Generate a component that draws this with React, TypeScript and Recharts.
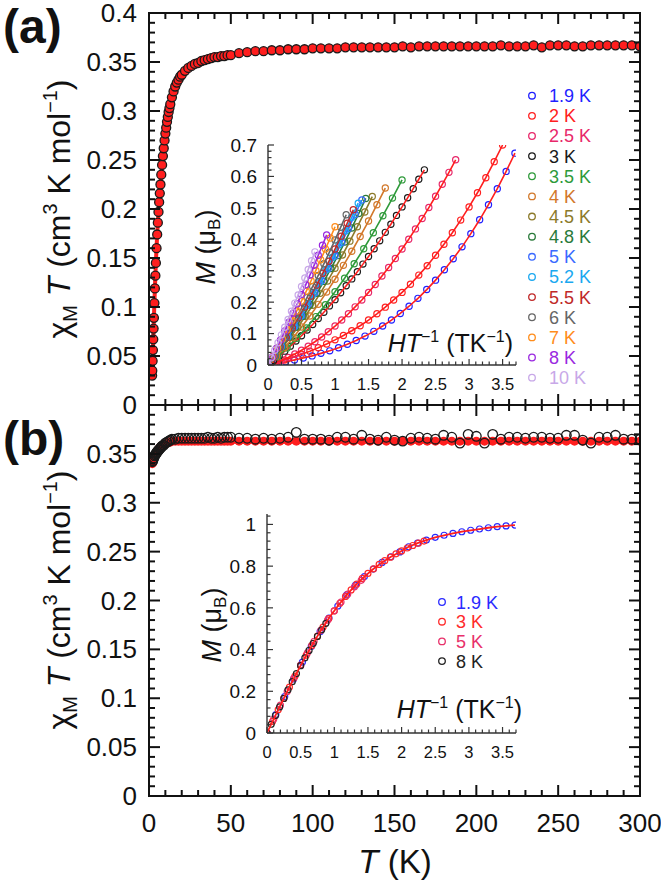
import React from 'react';
import { ScatterChart, Scatter, XAxis, YAxis } from 'recharts';

const FONT = '"Liberation Sans", Arial, Helvetica, sans-serif';
const INK = '#111';
const FIT = '#ff1e1e';

// chi*T against T, upper panel
const tempA = [
  1.9, 2, 2.2, 2.4, 2.6, 2.8, 3, 3.3, 3.6, 3.9, 4.2, 4.6, 5, 5.4, 5.8, 6.2, 6.6, 7,
  7.5, 8, 8.5, 9, 9.5, 10, 10.5, 11, 11.5, 12, 12.5, 13, 14, 15, 16, 17, 18, 19, 20,
  22, 24, 26, 28, 30, 32, 34, 36, 38, 40, 42, 44, 46, 48, 50,
  55, 60, 65, 70, 75, 80, 85, 90, 95, 100, 105, 110, 115, 120, 125, 130, 135, 140, 145, 150,
  155, 160, 165, 170, 175, 180, 185, 190, 195, 200, 205, 210, 215, 220, 225, 230, 235, 240, 245, 250,
  255, 260, 265, 270, 275, 280, 285, 290, 295, 300,
];
const chiTA = [
  0.030, 0.035, 0.045, 0.056, 0.067, 0.078, 0.089, 0.104, 0.119, 0.132, 0.145, 0.160, 0.174,
  0.186, 0.197, 0.207, 0.216, 0.225, 0.235, 0.245, 0.254, 0.262, 0.270, 0.277,
  0.283, 0.289, 0.294, 0.299, 0.303, 0.307, 0.314, 0.320, 0.325, 0.329, 0.332, 0.335, 0.337,
  0.341, 0.344, 0.346, 0.348, 0.349, 0.351, 0.352, 0.353, 0.354, 0.355, 0.355, 0.356, 0.356, 0.357, 0.357,
  0.359, 0.360, 0.361, 0.361, 0.362, 0.362, 0.363, 0.363, 0.363, 0.364,
  0.364, 0.364, 0.364, 0.365, 0.365, 0.365, 0.365, 0.365, 0.365, 0.365,
  0.366, 0.365, 0.366, 0.366, 0.366, 0.366, 0.366, 0.366, 0.366, 0.366,
  0.366, 0.366, 0.367, 0.366, 0.366, 0.366, 0.367, 0.365, 0.367, 0.367,
  0.367, 0.366, 0.366, 0.367, 0.367, 0.367, 0.367, 0.367, 0.367, 0.366,
];

// chi*T against T, lower panel: measured and calculated
const tempB = [
  2, 2.3, 2.6, 3, 3.4, 3.8, 4.2, 4.6, 5, 5.5, 6, 6.5, 7, 7.5, 8, 9, 10, 11, 12, 13, 14,
  16, 18, 20, 22, 24, 26, 28, 30, 32, 34, 36, 38, 40, 42, 44, 46, 48, 50,
  55, 60, 65, 70, 75, 80, 85, 90, 95, 100, 105, 110, 115, 120, 125, 130, 135, 140, 145, 150,
  155, 160, 165, 170, 175, 180, 185, 190, 195, 200, 205, 210, 215, 220, 225, 230, 235, 240, 245, 250,
  255, 260, 265, 270, 275, 280, 285, 290, 295, 300,
];
const chiTBexp = [
  0.342, 0.343, 0.345, 0.346, 0.348, 0.349, 0.350, 0.351, 0.352, 0.353, 0.354, 0.355, 0.356, 0.357, 0.358,
  0.359, 0.361, 0.362, 0.363, 0.364, 0.365,
  0.365, 0.366, 0.366, 0.366, 0.366, 0.366, 0.366, 0.366, 0.366, 0.366, 0.367, 0.366, 0.366, 0.367, 0.366, 0.367, 0.367, 0.367,
  0.366, 0.366, 0.365, 0.366, 0.365, 0.366, 0.367, 0.372, 0.365, 0.365,
  0.365, 0.364, 0.367, 0.367, 0.365, 0.369, 0.365, 0.364, 0.367, 0.364,
  0.363, 0.366, 0.367, 0.366, 0.365, 0.369, 0.367, 0.361, 0.370, 0.368,
  0.361, 0.370, 0.365, 0.367, 0.367, 0.366, 0.367, 0.367, 0.366, 0.366,
  0.369, 0.369, 0.364, 0.361, 0.367, 0.367, 0.369, 0.365, 0.365, 0.365,
];
const chiTBcalc = [
  0.340, 0.342, 0.344, 0.346, 0.348, 0.349, 0.351, 0.352, 0.353, 0.354, 0.355, 0.356, 0.357, 0.358, 0.358,
  0.359, 0.360, 0.361, 0.362, 0.362, 0.363,
  0.363, 0.363, 0.363, 0.363, 0.363, 0.363, 0.363, 0.363, 0.363, 0.363, 0.363, 0.363, 0.363, 0.363, 0.363, 0.363, 0.363, 0.363,
  0.363, 0.363, 0.363, 0.363, 0.363, 0.363, 0.363, 0.363, 0.363, 0.363,
  0.363, 0.363, 0.363, 0.363, 0.363, 0.363, 0.363, 0.363, 0.363, 0.363,
  0.363, 0.363, 0.363, 0.363, 0.363, 0.363, 0.363, 0.363, 0.363, 0.363,
  0.363, 0.363, 0.363, 0.363, 0.363, 0.363, 0.363, 0.363, 0.363, 0.363,
  0.363, 0.363, 0.363, 0.363, 0.363, 0.363, 0.363, 0.363, 0.363, 0.363,
];

// field sweeps (T) used for the magnetisation isotherms
const fieldFine = [0, 0.25, 0.5, 0.75, 1, 1.25, 1.5, 1.75, 2, 2.25, 2.5, 2.75, 3, 3.25, 3.5, 3.75, 4, 4.25, 4.5, 4.75, 5, 5.25, 5.5, 5.75, 6, 6.25, 6.5, 6.75, 7];
const fieldCoarse = [0, 0.5, 1, 1.5, 2, 2.5, 3, 3.5, 4, 4.5, 5, 5.5, 6, 6.5, 7];

// M (muB) isotherms, upper inset
const mA19 = [0, 0.005, 0.010, 0.016, 0.022, 0.029, 0.037, 0.045, 0.055, 0.066, 0.078, 0.092, 0.107, 0.124, 0.143, 0.164, 0.187, 0.212, 0.240, 0.270, 0.303, 0.338, 0.376, 0.418, 0.462, 0.510, 0.561, 0.616, 0.674];
const mA2 = [0, 0.008, 0.016, 0.025, 0.034, 0.044, 0.055, 0.067, 0.080, 0.094, 0.109, 0.125, 0.143, 0.163, 0.184, 0.207, 0.231, 0.257, 0.286, 0.316, 0.349, 0.384, 0.421, 0.461, 0.503, 0.548, 0.596, 0.647, 0.700];
const mA25 = [0, 0.007, 0.015, 0.024, 0.035, 0.047, 0.060, 0.074, 0.089, 0.106, 0.124, 0.143, 0.163, 0.185, 0.207, 0.231, 0.256, 0.283, 0.310, 0.339, 0.369, 0.400, 0.433, 0.466, 0.501, 0.537, 0.575, 0.613, 0.653];
const mA3 = [0, 0.014, 0.029, 0.044, 0.060, 0.076, 0.093, 0.111, 0.129, 0.148, 0.168, 0.188, 0.208, 0.230, 0.252, 0.274, 0.297, 0.321, 0.345, 0.370, 0.395, 0.422, 0.448, 0.476, 0.503, 0.532, 0.561, 0.591, 0.621];
const mA35 = [0, 0.026, 0.054, 0.085, 0.118, 0.154, 0.192, 0.233, 0.276, 0.322, 0.370, 0.421, 0.475, 0.531, 0.589];
const mA4 = [0, 0.027, 0.056, 0.087, 0.121, 0.156, 0.193, 0.232, 0.273, 0.317, 0.362, 0.409, 0.458, 0.510, 0.563];
const mA45 = [0, 0.028, 0.057, 0.088, 0.120, 0.155, 0.190, 0.228, 0.267, 0.308, 0.350, 0.394, 0.440, 0.487, 0.536];
const mA48 = [0, 0.028, 0.058, 0.089, 0.121, 0.155, 0.191, 0.228, 0.266, 0.307, 0.348, 0.391, 0.436, 0.482, 0.530];
const mA5 = [0, 0.029, 0.059, 0.090, 0.123, 0.157, 0.193, 0.230, 0.268, 0.307, 0.348, 0.390, 0.434, 0.479, 0.525];
const mA52 = [0, 0.028, 0.058, 0.089, 0.121, 0.154, 0.189, 0.225, 0.263, 0.302, 0.342, 0.383, 0.426, 0.470, 0.515];
const mA55 = [0, 0.028, 0.057, 0.087, 0.118, 0.150, 0.184, 0.219, 0.254, 0.292, 0.330, 0.369, 0.410, 0.451, 0.494];
const mA6 = [0, 0.028, 0.057, 0.086, 0.117, 0.149, 0.181, 0.215, 0.250, 0.285, 0.322, 0.359, 0.398, 0.438, 0.478];
const mA7 = [0, 0.027, 0.055, 0.083, 0.112, 0.142, 0.172, 0.204, 0.235, 0.268, 0.301, 0.335, 0.369, 0.404, 0.440];
const mA8 = [0, 0.026, 0.053, 0.080, 0.108, 0.136, 0.165, 0.195, 0.224, 0.255, 0.286, 0.317, 0.349, 0.381, 0.414];
const mA10 = [0, 0.023, 0.047, 0.071, 0.096, 0.120, 0.145, 0.171, 0.197, 0.223, 0.250, 0.277, 0.304, 0.332, 0.360];

// M (muB) isotherms, lower inset
const mB19 = [0, 0.088, 0.175, 0.259, 0.340, 0.415, 0.486, 0.551, 0.609, 0.662, 0.709, 0.750, 0.786, 0.818, 0.845, 0.868, 0.893, 0.910, 0.925, 0.938, 0.948, 0.957, 0.965, 0.972, 0.978, 0.984, 0.989, 0.993, 0.997];
const mB3 = [0, 0.056, 0.112, 0.166, 0.220, 0.273, 0.324, 0.373, 0.420, 0.465, 0.508, 0.548, 0.586, 0.622, 0.655, 0.686, 0.714, 0.741, 0.765, 0.787, 0.808, 0.826, 0.843, 0.859, 0.873, 0.887, 0.899, 0.910, 0.920];
const mB5 = [0, 0.067, 0.134, 0.199, 0.263, 0.325, 0.384, 0.440, 0.492, 0.541, 0.586, 0.628, 0.666, 0.701, 0.732];
const mB8 = [0, 0.042, 0.084, 0.125, 0.166, 0.207, 0.246, 0.285, 0.323, 0.360, 0.396, 0.430, 0.463, 0.495, 0.526];

// tick labels and tick grids
const tMajor = [0, 50, 100, 150, 200, 250, 300];
const chiMajor = [0, 0.05, 0.1, 0.15, 0.2, 0.25, 0.3, 0.35, 0.4];
const hMajor = [0, 0.5, 1, 1.5, 2, 2.5, 3, 3.5];
const mMajorA = [0, 0.1, 0.2, 0.3, 0.4, 0.5, 0.6, 0.7];
const mMajorB = [0, 0.2, 0.4, 0.6, 0.8, 1];

const tTicks = Array.from({ length: 31 }, (_, i) => i * 10);
const chiTicks = Array.from({ length: 41 }, (_, i) => i / 100);
const hTicks = Array.from({ length: 38 }, (_, i) => i / 10);
const mTicksA = Array.from({ length: 36 }, (_, i) => i / 50);
const mTicksB = Array.from({ length: 27 }, (_, i) => i / 25);

// plot boxes (page pixels), matching the chart margins below
const FRAME_L = 149;
const FRAME_W = 491;
const FRAME_A = { top: 13, h: 392 };
const FRAME_B = { top: 405, h: 391 };
const INSET_A = { left: 268, top: 145, w: 248, h: 220, yMax: 0.7 };
const INSET_B = { left: 267, top: 514, w: 249, h: 219, yMax: 1.05 };
const H_MAX = 3.7;

const near = (v: number, list: number[]) => list.some((m) => Math.abs(m - v) < 1e-6);
const fmt = (v: number) => String(parseFloat(v.toFixed(2)));

const xy = (xs: number[], ys: number[]) => ys.map((y, i) => ({ x: xs[i], y }));
const sweep = (field: number[], temp: number, m: number[]) => m.map((y, i) => ({ x: field[i] / temp, y }));

const sweepsA = [
  { label: '1.9 K', color: '#1f1fff', fit: FIT, pts: sweep(fieldFine, 1.9, mA19) },
  { label: '2 K', color: '#ff2020', fit: FIT, pts: sweep(fieldFine, 2, mA2) },
  { label: '2.5 K', color: '#e8286a', fit: FIT, pts: sweep(fieldFine, 2.5, mA25) },
  { label: '3 K', color: '#1a1a1a', fit: FIT, pts: sweep(fieldFine, 3, mA3) },
  { label: '3.5 K', color: '#2e9a3a', fit: '#2e9a3a', pts: sweep(fieldCoarse, 3.5, mA35) },
  { label: '4 K', color: '#d2782a', fit: '#d2782a', pts: sweep(fieldCoarse, 4, mA4) },
  { label: '4.5 K', color: '#8c7a2a', fit: '#8c7a2a', pts: sweep(fieldCoarse, 4.5, mA45) },
  { label: '4.8 K', color: '#2a7a3a', fit: '#2a7a3a', pts: sweep(fieldCoarse, 4.8, mA48) },
  { label: '5 K', color: '#3a6aff', fit: '#3a6aff', pts: sweep(fieldCoarse, 5, mA5) },
  { label: '5.2 K', color: '#1aa8f0', fit: '#1aa8f0', pts: sweep(fieldCoarse, 5.2, mA52) },
  { label: '5.5 K', color: '#c02828', fit: '#c02828', pts: sweep(fieldCoarse, 5.5, mA55) },
  { label: '6 K', color: '#666666', fit: '#666666', pts: sweep(fieldCoarse, 6, mA6) },
  { label: '7 K', color: '#ff8c1a', fit: '#ff8c1a', pts: sweep(fieldCoarse, 7, mA7) },
  { label: '8 K', color: '#9a28e0', fit: '#9a28e0', pts: sweep(fieldCoarse, 8, mA8) },
  { label: '10 K', color: '#c8a8e8', fit: '#c8a8e8', pts: sweep(fieldCoarse, 10, mA10) },
];

const sweepsB = [
  { label: '1.9 K', color: '#2a2aff', pts: sweep(fieldFine, 1.9, mB19) },
  { label: '3 K', color: '#ff2a2a', pts: sweep(fieldFine, 3, mB3) },
  { label: '5 K', color: '#e8306a', pts: sweep(fieldCoarse, 5, mB5) },
  { label: '8 K', color: '#222222', pts: sweep(fieldCoarse, 8, mB8) },
];

// axis labels only; tick marks are drawn in the overlay
const labelTick = (side: 'bottom' | 'left', majors: number[], size: number, gap: number, skip: number[] = []) => (p: any) => {
  const v = Number(p.payload.value);
  if (!near(v, majors) || near(v, skip)) return <g />;
  if (side === 'bottom') {
    return (
      <text x={p.x} y={p.y + gap} textAnchor="middle" fontSize={size} fontFamily={FONT} fill={INK}>{fmt(v)}</text>
    );
  }
  return (
    <text x={p.x - gap} y={p.y + size * 0.35} textAnchor="end" fontSize={size} fontFamily={FONT} fill={INK}>{fmt(v)}</text>
  );
};

const noDot = () => <g />;
const ring = (color: string, r: number, w: number, fill = 'none') => (p: any) =>
  <circle cx={p.cx} cy={p.cy} r={r} fill={fill} stroke={color} strokeWidth={w} />;
const disc = (color: string, r: number) => (p: any) => <circle cx={p.cx} cy={p.cy} r={r} fill={color} />;

// each axis is 1px thick (a zero-size axis is not drawn), margins make up the rest
const frameAxes = (xLabels: boolean, skipY: number[]) => [
  <XAxis key="xb" xAxisId="b" type="number" dataKey="x" domain={[0, 300]} ticks={tTicks} interval={0}
    height={1} tickSize={0} tickMargin={0} tickLine={false} axisLine={false} allowDataOverflow
    tick={xLabels ? labelTick('bottom', tMajor, 26, 36) : false} />,
  <YAxis key="yl" yAxisId="l" type="number" dataKey="y" domain={[0, 0.4]} ticks={chiTicks} interval={0}
    width={1} tickSize={0} tickMargin={0} tickLine={false} axisLine={false} allowDataOverflow
    tick={labelTick('left', chiMajor, 26, 12, skipY)} />,
];

const insetAxes = (yMax: number, yTicks: number[], yMajors: number[]) => [
  <XAxis key="x" xAxisId="b" type="number" dataKey="x" domain={[0, H_MAX]} ticks={hTicks} interval={0}
    height={1} tickSize={0} tickMargin={0} tickLine={false} axisLine={false} allowDataOverflow
    tick={labelTick('bottom', hMajor, 16.5, 25)} />,
  <YAxis key="y" yAxisId="l" type="number" dataKey="y" domain={[0, yMax]} ticks={yTicks} interval={0}
    width={1} tickSize={0} tickMargin={0} tickLine={false} axisLine={false} allowDataOverflow
    tick={labelTick('left', yMajors, 19, 11)} />,
];

// inward ticks on all four sides of a chi*T box
function FrameTicks({ top, h }: { top: number; h: number }) {
  const bottom = top + h;
  const right = FRAME_L + FRAME_W;
  const sx = (v: number) => FRAME_L + (v / 300) * FRAME_W;
  const sy = (c: number) => bottom - (c / 0.4) * h;
  return (
    <g stroke={INK} strokeWidth={2}>
      {tTicks.map((v) => {
        const len = near(v, tMajor) ? 11 : 6;
        const x = sx(v);
        return (
          <g key={'t' + v}>
            <line x1={x} y1={bottom} x2={x} y2={bottom - len} />
            <line x1={x} y1={top} x2={x} y2={top + len} />
          </g>
        );
      })}
      {chiTicks.map((c) => {
        const len = near(c, chiMajor) ? 11 : 6;
        const y = sy(c);
        return (
          <g key={'c' + c}>
            <line x1={FRAME_L} y1={y} x2={FRAME_L + len} y2={y} />
            <line x1={right} y1={y} x2={right - len} y2={y} />
          </g>
        );
      })}
      <rect x={FRAME_L} y={top} width={FRAME_W} height={h} fill="none" />
    </g>
  );
}

// open L-shaped inset axes with inward ticks
function InsetTicks({ box, yTicks, yMajors }: { box: typeof INSET_A; yTicks: number[]; yMajors: number[] }) {
  const bottom = box.top + box.h;
  const sx = (v: number) => box.left + (v / H_MAX) * box.w;
  const sy = (m: number) => bottom - (m / box.yMax) * box.h;
  return (
    <g stroke="#333" strokeWidth={1.2}>
      <line x1={box.left} y1={bottom} x2={box.left + box.w} y2={bottom} strokeWidth={1.4} />
      <line x1={box.left} y1={box.top} x2={box.left} y2={bottom} strokeWidth={1.4} />
      {hTicks.map((v) => {
        const len = near(v, hMajor) ? 6 : 3.5;
        return <line key={'h' + v} x1={sx(v)} y1={bottom} x2={sx(v)} y2={bottom - len} />;
      })}
      {yTicks.map((m) => {
        const len = near(m, yMajors) ? 6 : 3.5;
        return <line key={'m' + m} x1={box.left} y1={sy(m)} x2={box.left + len} y2={sy(m)} />;
      })}
    </g>
  );
}

const supText = (base: number) => ({ fontSize: base * 0.62 });

export default function App() {
  const ptsA = xy(tempA, chiTA);
  const ptsBexp = xy(tempB, chiTBexp);
  const ptsBcalc = xy(tempB, chiTBcalc);

  return (
    <div style={{ position: 'absolute', left: 0, top: 0, width: 661, height: 888, background: '#fff', fontFamily: FONT }}>
      <div style={{ position: 'absolute', left: 0, top: 0 }}>
        <ScatterChart width={661} height={420} margin={{ top: 13, right: 21, bottom: 14, left: 148 }}>
          {frameAxes(false, [])}
          <Scatter xAxisId="b" yAxisId="l" data={ptsA} line={{ stroke: FIT, strokeWidth: 4 }} shape={noDot} isAnimationActive={false} />
          <Scatter xAxisId="b" yAxisId="l" data={ptsA} shape={ring('#1a1a1a', 4.5, 1.3, FIT)} isAnimationActive={false} />
        </ScatterChart>
      </div>

      <div style={{ position: 'absolute', left: 0, top: 390 }}>
        <ScatterChart width={661} height={498} margin={{ top: 15, right: 21, bottom: 91, left: 148 }}>
          {frameAxes(true, [0.4])}
          <Scatter xAxisId="b" yAxisId="l" data={ptsBcalc} line={{ stroke: FIT, strokeWidth: 5 }} shape={noDot} isAnimationActive={false} />
          <Scatter xAxisId="b" yAxisId="l" data={ptsBcalc} shape={disc(FIT, 4.5)} isAnimationActive={false} />
          <Scatter xAxisId="b" yAxisId="l" data={ptsBexp} shape={ring('#1a1a1a', 4.8, 1.3)} isAnimationActive={false} />
        </ScatterChart>
      </div>

      <div style={{ position: 'absolute', left: 180, top: 120 }}>
        <ScatterChart width={350} height={280} margin={{ top: 25, right: 14, bottom: 34, left: 87 }}>
          {insetAxes(INSET_A.yMax, mTicksA, mMajorA)}
          {sweepsA.flatMap((s) => [
            <Scatter key={s.label + 'o'} xAxisId="b" yAxisId="l" data={s.pts} shape={ring(s.color, 3.1, 1.2)} isAnimationActive={false} />,
            <Scatter key={s.label + 'f'} xAxisId="b" yAxisId="l" data={s.pts} line={{ stroke: s.fit, strokeWidth: 1.6 }} shape={noDot} isAnimationActive={false} />,
          ])}
        </ScatterChart>
      </div>

      <div style={{ position: 'absolute', left: 180, top: 490 }}>
        <ScatterChart width={350} height={290} margin={{ top: 24, right: 14, bottom: 46, left: 86 }}>
          {insetAxes(INSET_B.yMax, mTicksB, mMajorB)}
          {sweepsB.map((s) => (
            <Scatter key={s.label} xAxisId="b" yAxisId="l" data={s.pts} shape={ring(s.color, 3, 1.2)} isAnimationActive={false} />
          ))}
          <Scatter xAxisId="b" yAxisId="l" data={sweepsB[0].pts} line={{ stroke: FIT, strokeWidth: 1.8 }} shape={noDot} isAnimationActive={false} />
        </ScatterChart>
      </div>

      {/* frames, ticks, titles, panel letters and legends */}
      <svg width={661} height={888} style={{ position: 'absolute', left: 0, top: 0, pointerEvents: 'none' }} fontFamily={FONT} fill={INK}>
        <FrameTicks top={FRAME_A.top} h={FRAME_A.h} />
        <FrameTicks top={FRAME_B.top} h={FRAME_B.h} />
        <InsetTicks box={INSET_A} yTicks={mTicksA} yMajors={mMajorA} />
        <InsetTicks box={INSET_B} yTicks={mTicksB} yMajors={mMajorB} />

        <text x={3} y={43} fontSize={48} fontWeight="bold">(a)</text>
        <text x={3} y={455} fontSize={48} fontWeight="bold">(b)</text>

        {[209, 600].map((cy) => (
          <text key={cy} transform={`translate(70,${cy}) rotate(-90)`} textAnchor="middle" fontSize={32}>
            <tspan>χ</tspan>
            <tspan {...supText(32)} dy={7}>M</tspan>
            <tspan dy={-7} fontStyle="italic"> T</tspan>
            <tspan> (cm</tspan>
            <tspan {...supText(32)} dy={-13}>3</tspan>
            <tspan dy={13}> K mol</tspan>
            <tspan {...supText(32)} dy={-13}>−1</tspan>
            <tspan dy={13}>)</tspan>
          </text>
        ))}

        <text x={395} y={873} textAnchor="middle" fontSize={33}>
          <tspan fontStyle="italic">T</tspan> (K)
        </text>

        {[[215, 247], [221, 625]].map(([bx, cy]) => (
          <text key={cy} transform={`translate(${bx},${cy}) rotate(-90)`} textAnchor="middle" fontSize={27}>
            <tspan fontStyle="italic">M</tspan>
            <tspan> (μ</tspan>
            <tspan fontSize={17} dy={5}>B</tspan>
            <tspan dy={-5}>)</tspan>
          </text>
        ))}

        {[[513, 352], [522, 718]].map(([rx, by]) => (
          <text key={by} x={rx} y={by} textAnchor="end" fontSize={25}>
            <tspan fontStyle="italic">HT</tspan>
            <tspan fontSize={16} dy={-10}>−1</tspan>
            <tspan dy={10}> (TK</tspan>
            <tspan fontSize={16} dy={-10}>−1</tspan>
            <tspan dy={10}>)</tspan>
          </text>
        ))}

        {sweepsA.map((s, i) => {
          const cy = 95.7 + i * 20.14;
          return (
            <g key={s.label}>
              <circle cx={532} cy={cy} r={3.3} fill="none" stroke={s.color} strokeWidth={1.3} />
              <text x={549} y={cy + 6.5} fontSize={18} fill={s.color}>{s.label}</text>
            </g>
          );
        })}

        {sweepsB.map((s, i) => {
          const cy = 602 + i * 19.7;
          return (
            <g key={s.label}>
              <circle cx={442} cy={cy} r={3.3} fill="none" stroke={s.color} strokeWidth={1.3} />
              <text x={456} y={cy + 6.5} fontSize={18} fill={s.color}>{s.label}</text>
            </g>
          );
        })}
      </svg>
    </div>
  );
}
